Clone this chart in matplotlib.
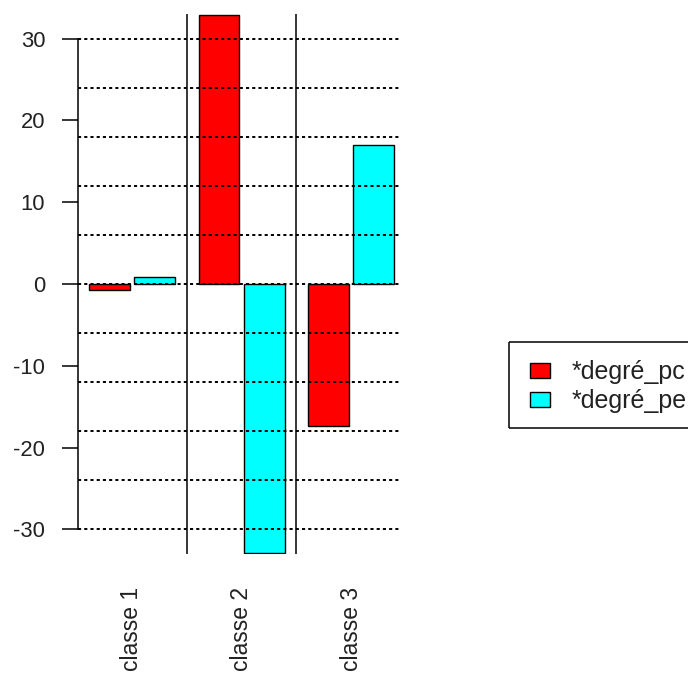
import numpy as np
import matplotlib
matplotlib.use('Agg')
import matplotlib.pyplot as plt
from matplotlib.lines import Line2D

plt.rcParams['font.family'] = ['Liberation Sans', 'DejaVu Sans']
plt.rcParams['axes.unicode_minus'] = False

# data
classes = ['classe 1', 'classe 2', 'classe 3']
degre_pc = [-0.75, 32.9, -17.3]
degre_pe = [0.8, -32.9, 17.05]
series_names = ['*degré_pc', '*degré_pe']
yticks = [-30, -20, -10, 0, 10, 20, 30]
grid_levels = [-30, -24, -18, -12, -6, 0, 6, 12, 18, 24, 30]

fig = plt.figure(figsize=(6.88, 6.73), dpi=100)
ax = fig.add_axes([78/688, 1-554/673, 322/688, 540/673])

x = np.arange(len(classes))
w = 0.374
off = 0.2055
ax.bar(x - off, degre_pc, w, color='#ff0000', edgecolor='black', linewidth=1.0,
       label=series_names[0], zorder=2)
ax.bar(x + off, degre_pe, w, color='#00ffff', edgecolor='black', linewidth=1.0,
       label=series_names[1], zorder=2)

for g in grid_levels:
    ax.axhline(g, color='black', lw=1.4, ls=(0, (1.6, 1.6)), zorder=3)
for s in x[:-1] + 0.5:
    ax.axvline(s, color='black', lw=1.1, zorder=3)

ax.set_xlim(-0.493, 2.447)
ax.set_ylim(-33, 33)

for side in ['top', 'right', 'bottom']:
    ax.spines[side].set_visible(False)
ax.spines['left'].set_bounds(-30, 30)
ax.spines['left'].set_linewidth(1.1)

ax.set_yticks(yticks)
ax.tick_params(axis='y', length=11.5, width=1.1, pad=12, labelsize=15.8,
               labelcolor='#222222')
ax.set_xticks(x)
ax.set_xticklabels(classes, rotation=90, va='top', ha='center')
ax.tick_params(axis='x', length=0, pad=24, labelsize=16.5, labelcolor='#222222')

# legend (box runs off the right edge of the picture, like the original)
leg = fig.legend(loc='upper left',
                 bbox_to_anchor=(515/688, 1-345/673),
                 fontsize=18, frameon=False,
                 handlelength=0.8, handleheight=0.55,
                 handletextpad=0.85, labelspacing=0.2, borderpad=0.6,
                 borderaxespad=0)
for t in leg.get_texts():
    t.set_color('#222222')
    t.set_clip_on(False)

x0, y_top, y_bot = 509/688, 1-342/673, 1-428/673
for xs, ys in [([x0, 1.0], [y_top, y_top]), ([x0, 1.0], [y_bot, y_bot]),
               ([x0, x0], [y_top, y_bot])]:
    fig.add_artist(Line2D(xs, ys, transform=fig.transFigure, color='black',
                          lw=1.1, solid_capstyle='butt'))

fig.savefig('out.png', dpi=100)
